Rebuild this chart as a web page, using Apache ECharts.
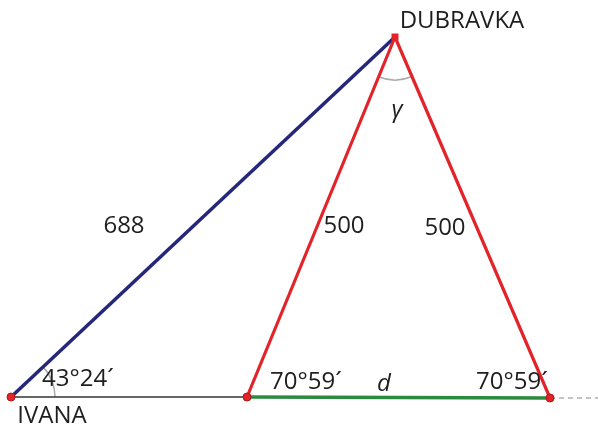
<!DOCTYPE html>
<html>
<head>
<meta charset="UTF-8">
<script src="https://cdn.jsdelivr.net/npm/echarts@6/dist/echarts.min.js"></script>
<style>html,body{margin:0;padding:0;background:#fff}</style>
</head>
<body>
<div id="main" style="width:598px;height:427px;"></div>
<script>
// points of the figure, in drawing units (x right, y down)
var ivana = [11, 397];
var dubravka = [395, 37];
var baseLeft = [247, 397];
var baseRight = [550, 398];
var dashEnd = [598, 398];

// labels: [x, y, text, italic]
var labels = [
    [462, 21, 'DUBRAVKA', false],
    [52, 416, 'IVANA', false],
    [124, 226, '688', false],
    [344, 226, '500', false],
    [445, 228, '500', false],
    [397, 110, 'γ', true],
    [78, 379, '43°24´', false],
    [306, 382, '70°59´', false],
    [384, 384, 'd', true],
    [512, 382, '70°59´', false]
];

// arcs: [center, radius, startDeg, endDeg]
var arcs = [
    [ivana, 44, -43.2, 0],
    [dubravka, 43, 66.8, 112.4]
];

var chart = echarts.init(document.getElementById('main'));

function seg(a, b, color, width, type) {
    return {
        type: 'line',
        data: [a, b],
        symbol: 'none',
        silent: true,
        lineStyle: {color: color, width: width, type: type || 'solid'},
        z: 2
    };
}

var series = [
    seg(ivana, baseLeft, '#333333', 1.5),
    seg(baseRight, dashEnd, '#888888', 1.2, [5, 4]),
    seg(baseLeft, baseRight, '#2b8a3e', 3.5),
    seg(ivana, dubravka, '#25277a', 3.5),
    seg(baseLeft, dubravka, '#e3232a', 3.2),
    seg(baseRight, dubravka, '#e3232a', 3.2),
    {
        type: 'custom',
        silent: true,
        data: arcs.map(function (a) { return [a[0][0], a[0][1], a[1], a[2], a[3]]; }),
        renderItem: function (params, api) {
            var c = api.coord([api.value(0), api.value(1)]);
            var r = api.size([api.value(2), 0])[0];
            return {
                type: 'arc',
                shape: {
                    cx: c[0], cy: c[1], r: r,
                    startAngle: api.value(3) * Math.PI / 180,
                    endAngle: api.value(4) * Math.PI / 180,
                    clockwise: true
                },
                style: {stroke: '#aaaaaa', lineWidth: 1.5, fill: null}
            };
        },
        z: 1
    },
    {
        type: 'scatter',
        data: [ivana, baseLeft, baseRight],
        symbolSize: 8,
        itemStyle: {color: '#e3232a', borderColor: '#b01818', borderWidth: 1, opacity: 1},
        z: 5
    },
    {
        type: 'scatter',
        data: [dubravka],
        symbol: 'rect',
        symbolSize: 7,
        itemStyle: {color: '#e3232a', opacity: 1},
        z: 5
    },
    {
        type: 'scatter',
        data: labels.map(function (l) {
            return {
                value: [l[0], l[1]],
                label: {
                    show: true,
                    position: 'inside',
                    formatter: l[2],
                    color: '#1e1e1e',
                    fontFamily: 'Open Sans',
                    fontSize: 24,
                    fontStyle: l[3] ? 'italic' : 'normal'
                }
            };
        }),
        symbolSize: 1,
        itemStyle: {color: 'rgba(0,0,0,0)', opacity: 1},
        z: 6
    }
];

chart.setOption({
    animation: false,
    grid: {left: 0, right: 0, top: 0, bottom: 0},
    xAxis: {type: 'value', min: 0, max: 598, show: false},
    yAxis: {type: 'value', min: 0, max: 427, inverse: true, show: false},
    series: series
});
</script>
</body>
</html>
